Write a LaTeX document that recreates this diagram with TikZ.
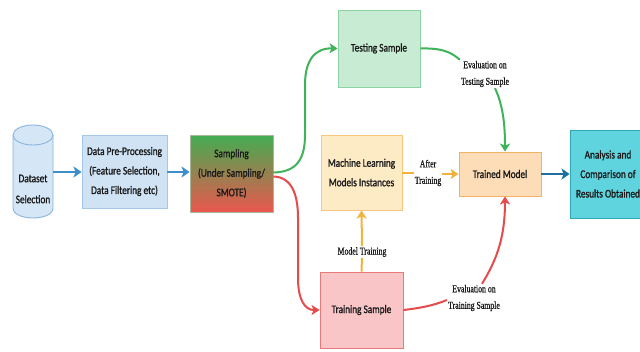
\documentclass[tikz,border=0pt]{standalone}
\usepackage{fontspec}
\usetikzlibrary{arrows.meta}
\newfontfamily\bxfont[FakeStretch=0.8,FakeBold=1.2]{Carlito}
\newfontfamily\lbfont[FakeStretch=0.74,FakeBold=0.8]{Liberation Serif}
\newcommand\bxsize{\bxfont\fontsize{11.6}{19.5}\selectfont}
\newcommand\lbsize{\lbfont\fontsize{10.5}{16.5}\selectfont}
\definecolor{cylfill}{HTML}{D5E6F6}
\definecolor{cylline}{HTML}{8AB5DC}
\definecolor{prefill}{HTML}{CFE3F5}
\definecolor{preline}{HTML}{A3C8EA}
\definecolor{sampT}{HTML}{43AC52}
\definecolor{sampB}{HTML}{EA564E}
\definecolor{sampline}{HTML}{A8B898}
\definecolor{tstfill}{HTML}{C7EBD3}
\definecolor{tstline}{HTML}{8DD2A4}
\definecolor{mlfill}{HTML}{FDEBC6}
\definecolor{mlline}{HTML}{F6C77D}
\definecolor{trmfill}{HTML}{FDDDB8}
\definecolor{trmline}{HTML}{F5B263}
\definecolor{trsfill}{HTML}{F9C5C7}
\definecolor{trsline}{HTML}{E8797B}
\definecolor{anafill}{HTML}{5FD4DE}
\definecolor{analine}{HTML}{2FA7B7}
\definecolor{arblue}{HTML}{3E8FC9}
\definecolor{ardark}{HTML}{1E6E9E}
\definecolor{argreen}{HTML}{3FB35A}
\definecolor{arred}{HTML}{E64B4B}
\definecolor{arorange}{HTML}{F2B33D}
\definecolor{txt}{HTML}{1A1A1A}
\begin{document}
\begin{tikzpicture}[x=1pt,y=-1pt,
  box/.style={draw, line width=0.9pt, align=center, font=\bxsize, text=txt, inner sep=0pt},
  lbl/.style={align=center, font=\lbsize, text=txt, inner sep=1pt},
  thickarrow/.style={line width=2.6pt, -{Stealth[length=8pt,width=11pt,inset=2pt]}},
  curvearrow/.style={line width=2pt, -{Stealth[length=8pt,width=10pt,inset=2pt]}},
  curveline/.style={line width=2pt}]
\useasboundingbox (0,0) rectangle (640,351);
\clip (0,0) rectangle (640,351);
\fill[white] (0,0) rectangle (640,351);
% cylinder
\fill[cylfill] (13,135) -- (13,208) .. controls (13,221.3) and (53,221.3) .. (53,208) -- (53,135) -- cycle;
\draw[cylline, line width=0.9pt] (13,135) -- (13,208) .. controls (13,221.3) and (53,221.3) .. (53,208) -- (53,135);
\draw[cylline, fill=cylfill, line width=0.9pt] (33,135) ellipse (20 and 10);
\node[align=center, font=\bxsize, text=txt, minimum width=40pt, minimum height=93pt, inner sep=0pt] (ds) at (33,171.5) {};
\node[align=center, font=\bxsize, text=txt, inner sep=0pt] (dstext) at (33,189) {Dataset\\[1.5pt]Selection};
% boxes
\node[box, fill=prefill, draw=preline, minimum width=85pt, minimum height=73pt] (pre) at (124.5,171.5) {Data Pre-Processing\\(Feature Selection,\\Data Filtering etc)};
\node[box, top color=sampT, bottom color=sampB, draw=sampline, minimum width=83pt, minimum height=77pt] (samp) at (231.5,173.5) {Sampling\\(Under Sampling/\\SMOTE)};
\node[box, fill=tstfill, draw=tstline, minimum width=82pt, minimum height=77pt] (tst) at (379,48.5) {Testing Sample};
\node[box, fill=mlfill, draw=mlline, minimum width=81pt, minimum height=75pt] (ml) at (361.5,172.5) {Machine Learning\\Models Instances};
\node[box, fill=trmfill, draw=trmline, minimum width=82pt, minimum height=44pt] (trm) at (500,174) {Trained Model};
\node[box, fill=trsfill, draw=trsline, minimum width=83pt, minimum height=76pt] (trs) at (361.5,310) {Training Sample};
\node[box, fill=anafill, draw=analine, minimum width=76pt, minimum height=88pt] (ana) at (608,174) {Analysis and\\Comparison of\\Results Obtained};
% labels
\node[lbl] (evt) at (485,74) {Evaluation on\\Testing Sample};
\node[lbl] (evr) at (474,298) {Evaluation on\\Training Sample};
\node[lbl] (aft) at (428,173) {After\\Training};
\node[lbl] (mtr) at (362,252) {Model Training};
% straight arrows
\draw[thickarrow, arblue] (ds.east |- 0,172) -- (pre.west |- 0,172);
\draw[thickarrow, arblue] (pre.east |- 0,172) -- (samp.west |- 0,172);
\draw[thickarrow, ardark] (trm.east) -- (ana.west |- trm.east);
% sampling to testing / training
\draw[curvearrow, argreen] ([yshift=1pt]samp.east) .. controls (296,172) and (305,160) .. (305,135) -- (305,85) .. controls (305,60) and (315,48) .. (tst.west);
\draw[curvearrow, arred] ([yshift=-3pt]samp.east) .. controls (292,177) and (298,195) .. (298,218) -- (298,278) .. controls (298,300) and (305,310) .. (trs.west);
% testing evaluation
\draw[curveline, argreen] (tst.east) .. controls (440,48) and (450,51) .. (evt.north west);
\draw[curvearrow, argreen] ([xshift=10pt]evt.south) .. controls (503,105) and (505,125) .. ([xshift=5pt]trm.north);
% training evaluation
\draw[curveline, arred] (trs.east) .. controls (420,308) and (432,306) .. ([yshift=-2pt]evr.west);
\draw[curvearrow, arred] ([xshift=8pt]evr.north) .. controls (498,258) and (505,235) .. ([xshift=5pt]trm.south);
% after training
\draw[curveline, arorange] (ml.east) -- (aft.west |- ml.east);
\draw[curvearrow, arorange] (aft.east |- trm.west) -- (trm.west);
% model training
\draw[curveline, arorange] (trs.north) -- (mtr.south);
\draw[curvearrow, arorange] (mtr.north) -- (ml.south);
\end{tikzpicture}
\end{document}
